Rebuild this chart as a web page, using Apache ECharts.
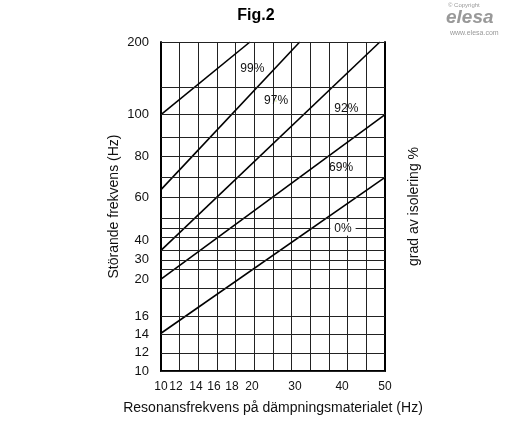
<!DOCTYPE html>
<html><head><meta charset="utf-8">
<script src="https://cdn.jsdelivr.net/npm/echarts@6/dist/echarts.min.js"></script>
<style>html,body{margin:0;padding:0;background:#fff}#c{width:512px;height:430px}</style>
</head><body><div id="c"></div>
<script>
// tick labels (Hz) and their positions on the chart's own printed scale
const xTicks = [10,12,14,16,18,20,30,40,50];
const xTickPos = [0,0.8,1.87,2.84,3.8,4.87,7.18,9.7,12];
const yTicks = [10,12,14,16,20,30,40,60,80,100,200];
const yTickPos = [0,5.5,11.2,16.7,27.9,33.9,39.7,52.7,65.2,77.9,100];
const yGrid = [0,5.5,11.2,16.7,25.2,30.9,33.6,36.7,40.6,43.3,46.4,52.7,58.8,65.2,71.2,77.9,86.1,100];
// isolation curves: [x Hz, y Hz] endpoints
const curveNames = ['99%','97%','92%','69%','0%'];
const curveX = [[10,19.8],[10,31],[10,48.8],[10,50],[10,50]];
const curveY = [[100,200],[63.9,200],[34.8,200],[20,100],[14.1,69.8]];
const labelPos = [[20.1,163],[25.6,119],[41,108],[39.8,74.6],[40.2,45.5]];

function interp(v, ks, ps){
  for(let i=0;i<ks.length-1;i++){
    if(v<=ks[i+1]||i===ks.length-2){
      return ps[i]+(ps[i+1]-ps[i])*(v-ks[i])/(ks[i+1]-ks[i]);
    }
  }
}
const X = v=>interp(v,xTicks,xTickPos), Y = v=>interp(v,yTicks,yTickPos);

const series = curveNames.map((n,i)=>({
  type:'line', name:n, symbol:'none', silent:true,
  lineStyle:{color:'#000',width:1.6},
  data:[[X(curveX[i][0]),Y(curveY[i][0])],[X(curveX[i][1]),Y(curveY[i][1])]],
  markPoint:{symbol:'rect',symbolSize:1,silent:true,
    data:[{coord:[X(labelPos[i][0]),Y(labelPos[i][1])],
      label:{show:true,position:'inside',formatter:n,color:'#111',fontSize:12,fontFamily:'Liberation Sans',
        backgroundColor: i===4?'#fff':'transparent',padding:[1,4]}}]}
}));
series.push({type:'line',data:[],silent:true,
  markLine:{symbol:'none',silent:true,label:{show:false},
    lineStyle:{color:'#222',width:1,type:'solid'},
    data:yGrid.map(v=>({yAxis:v}))}});

const chart = echarts.init(document.getElementById('c'));
chart.setOption({
  animation:false,
  title:{text:'Fig.2',left:'center',top:3,textStyle:{fontSize:16,fontWeight:'bold',color:'#000',fontFamily:'Liberation Sans'}},
  grid:{left:161,right:127,top:42,bottom:59},
  xAxis:{type:'value',min:0,max:12,interval:1,
    name:'Resonansfrekvens på dämpningsmaterialet (Hz)',nameLocation:'middle',nameGap:30,
    nameTextStyle:{fontSize:14,color:'#111',fontFamily:'Liberation Sans'},
    axisLine:{show:true,lineStyle:{color:'#000',width:2}},
    axisTick:{show:false},
    splitLine:{show:true,lineStyle:{color:'#222',width:1}},
    axisLabel:{customValues:xTickPos,color:'#111',fontSize:12,fontFamily:'Liberation Sans',margin:10,
      formatter:v=>{const i=xTickPos.findIndex(p=>Math.abs(p-v)<1e-6);return i>=0?xTicks[i]:'';}}},
  yAxis:[{type:'value',min:0,max:100,
    name:'Störande frekvens (Hz)',nameLocation:'middle',nameGap:40,
    nameTextStyle:{fontSize:14,color:'#111',fontFamily:'Liberation Sans'},
    axisLine:{show:true,lineStyle:{color:'#000',width:2}},
    axisTick:{show:false},splitLine:{show:false},
    axisLabel:{customValues:yTickPos,color:'#111',fontSize:13,fontFamily:'Liberation Sans',margin:12,
      formatter:v=>{const i=yTickPos.findIndex(p=>Math.abs(p-v)<1e-6);return i>=0?yTicks[i]:'';}}},
   {type:'value',min:0,max:100,position:'right',
    name:'grad av isolering %',nameLocation:'middle',nameGap:22,nameRotate:90,
    nameTextStyle:{fontSize:14,color:'#111',fontFamily:'Liberation Sans'},
    axisLine:{show:true,lineStyle:{color:'#000',width:2}},
    axisTick:{show:false},axisLabel:{show:false},splitLine:{show:false}}],
  graphic:[
    {type:'text',left:448,top:2,style:{text:'© Copyright',fontSize:6,fill:'#999',fontFamily:'Liberation Sans'}},
    {type:'text',left:446,top:8,style:{text:'elesa',fontSize:19,fontWeight:'bold',fontStyle:'italic',fill:'#999',fontFamily:'Liberation Sans'}},
    {type:'text',left:450,top:30,style:{text:'www.elesa.com',fontSize:7,fill:'#999',fontFamily:'Liberation Sans'}}
  ],
  series
});
</script></body></html>
